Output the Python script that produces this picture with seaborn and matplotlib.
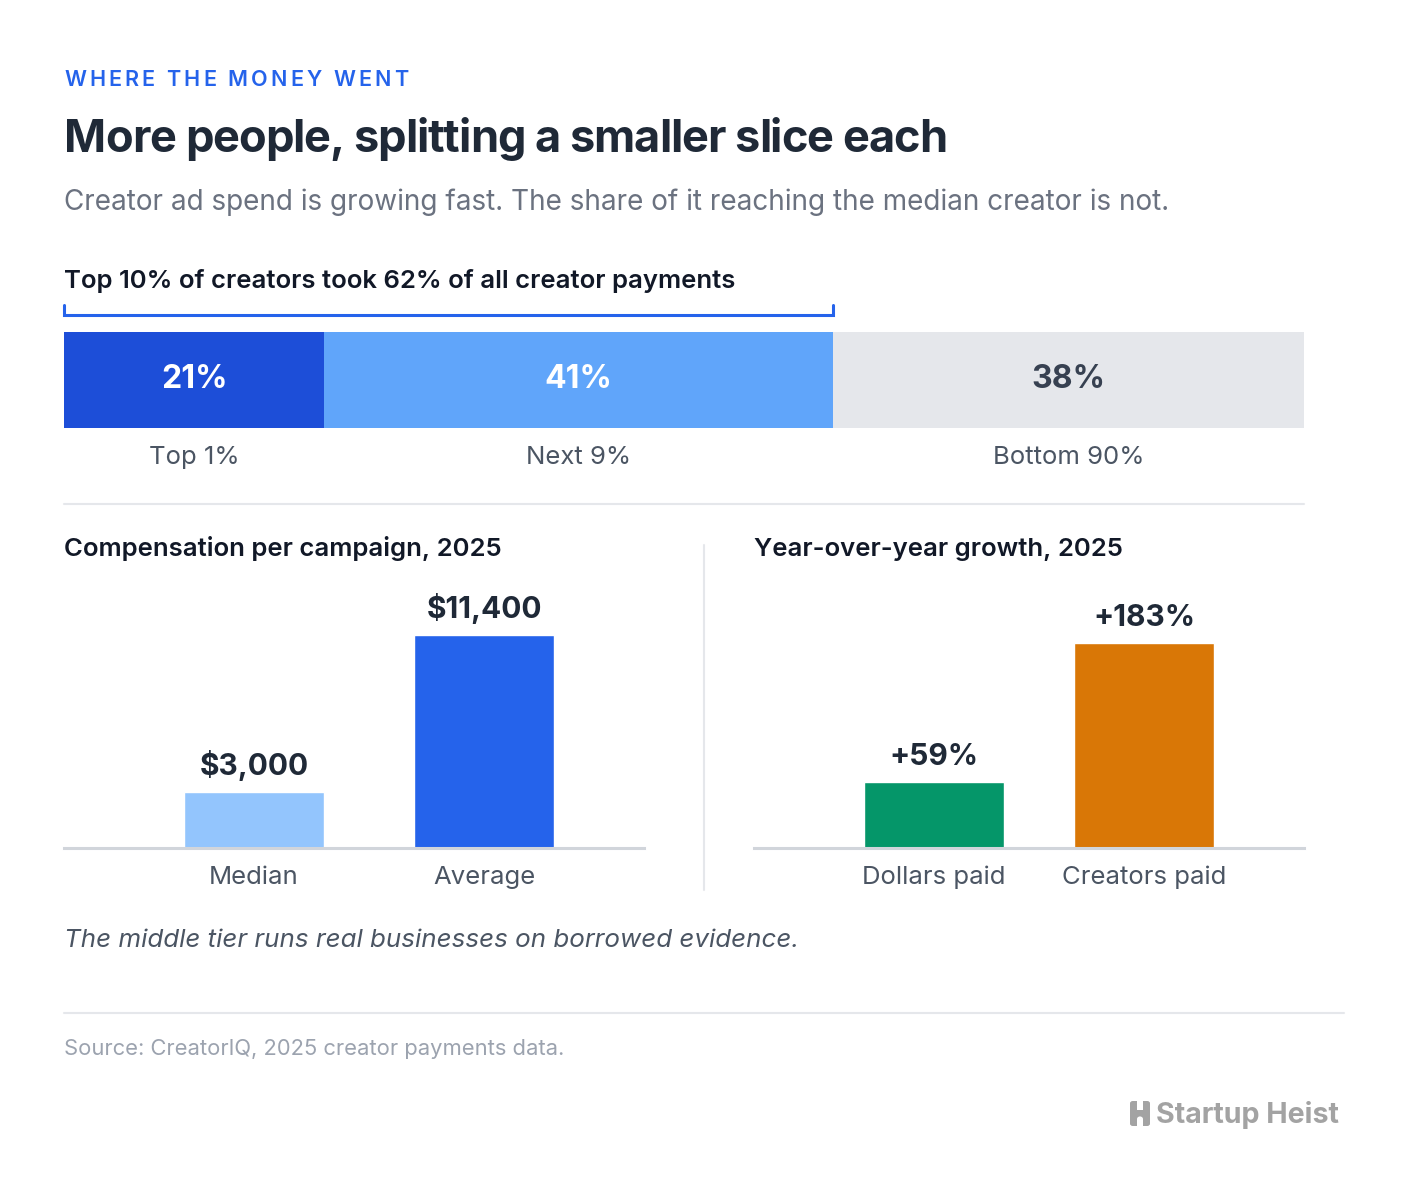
import matplotlib
matplotlib.use("Agg")
import matplotlib.pyplot as plt
import matplotlib.transforms as mtransforms
from matplotlib.lines import Line2D
from matplotlib.patches import FancyBboxPatch, Rectangle, Circle
import numpy as np
import seaborn as sns

# ---- data ----
tier_labels = ["Top 1%", "Next 9%", "Bottom 90%"]
tier_shares = [21, 41, 38]

comp_labels = ["Median", "Average"]
comp_values = [3000, 11400]

growth_labels = ["Dollars paid", "Creators paid"]
growth_values = [59, 183]

# ---- style ----
sns.set_theme(style="white")
plt.rcParams["font.family"] = ["Inter", "DejaVu Sans"]

DARK = "#1f2937"
GREY = "#4b5563"
MUTED = "#6b7280"
LIGHT = "#9ca3af"
RULE = "#e5e7eb"
BLUE = "#2563eb"

W, H = 1408, 1198
fig = plt.figure(figsize=(W / 100, H / 100), dpi=100)
fig.patch.set_facecolor("white")
R = fig.canvas.get_renderer()


def ax_px(x0, y0, x1, y1):
    return fig.add_axes([x0 / W, 1 - y1 / H, (x1 - x0) / W, (y1 - y0) / H])


def txt(x, y, s, **kw):
    kw.setdefault("va", "baseline")
    return fig.text(x / W, 1 - y / H, s, **kw)


def hline(x0, x1, y, **kw):
    fig.add_artist(Line2D([x0 / W, x1 / W], [1 - y / H, 1 - y / H],
                          transform=fig.transFigure, **kw))


def vline(x, y0, y1, **kw):
    fig.add_artist(Line2D([x / W, x / W], [1 - y0 / H, 1 - y1 / H],
                          transform=fig.transFigure, **kw))


def width_of(s, **kw):
    t = fig.text(0, 0, s, **kw)
    w = t.get_window_extent(R).width
    t.remove()
    return w


def fitted(x, y, s, target, **kw):
    # place chars one by one, spreading/tightening to a target width
    space = width_of("x x", **kw) - width_of("xx", **kw)
    widths = [space if ch == " " else width_of(ch, **kw) for ch in s]
    gap = (target - sum(widths)) / (len(s) - 1)
    for ch, w in zip(s, widths):
        if ch != " ":
            txt(x, y, ch, **kw)
        x += w + gap


# ---- header ----
fitted(64, 86, "WHERE THE MONEY WENT", 344, fontsize=15.5, fontweight="semibold", color=BLUE)
fitted(64, 152, "More people, splitting a smaller slice each", 883, fontsize=32.5,
       fontweight="bold", color=DARK)
txt(64, 210, "Creator ad spend is growing fast. The share of it reaching the median creator is not.",
    fontsize=20.1, color=MUTED)
txt(64, 288, "Top 10% of creators took 62% of all creator payments", fontsize=18.5,
    fontweight="semibold", color="#111827")

# ---- stacked share bar ----
ax = ax_px(64, 332, 1304, 428)
lefts = np.concatenate([[0], np.cumsum(tier_shares)[:-1]])
seg_colors = ["#1d4ed8", "#60a5fa", "#e5e7eb"]
lab_colors = ["white", "white", "#374151"]
ax.barh([0] * 3, tier_shares, left=lefts, height=1, color=seg_colors, linewidth=0)
for lab, share, left, lc in zip(tier_labels, tier_shares, lefts, lab_colors):
    c = left + share / 2
    ax.text(c, 0, f"{share}%", ha="center", va="center", fontsize=23,
            fontweight="bold", color=lc)
    ax.annotate(lab, xy=(c, 0), xycoords=("data", "axes fraction"),
                xytext=(0, -26), textcoords="offset points", ha="center",
                va="baseline", fontsize=18.5, color=GREY)
ax.set_xlim(0, 100)
ax.set_ylim(-0.5, 0.5)
ax.axis("off")

# bracket over the top 10%
top10 = tier_shares[0] + tier_shares[1]
blend = mtransforms.blended_transform_factory(ax.transData, ax.transAxes)
ax.plot([0, 0, top10, top10], [1.28, 1.177, 1.177, 1.28], transform=blend,
        color=BLUE, lw=2.2, clip_on=False, solid_joinstyle="miter")

hline(64, 1304, 504, color=RULE, lw=1.5)


# ---- small bar panels ----
def panel(x0, x1, labels, values, colors, fmt, heading, bar_px, centers):
    a = ax_px(x0, 590, x1, 848)
    step = centers[1] - centers[0]
    sns.barplot(x=labels, y=values, hue=labels, palette=colors, saturation=1,
                width=bar_px / step, legend=False, ax=a)
    a.set_xlim(-(centers[0] - x0) / step, 1 + (x1 - centers[1]) / step)
    a.set_ylim(0, max(values) * 258 / (213 if fmt.startswith("$") else 205))
    for i, (lab, v) in enumerate(zip(labels, values)):
        a.annotate(fmt.format(v), xy=(i, v), xytext=(0, 12), textcoords="offset points",
                   ha="center", va="baseline", fontsize=21.5, fontweight="bold", color=DARK)
        a.annotate(lab, xy=(i, 0), xycoords=("data", "axes fraction"),
                   xytext=(0, -26), textcoords="offset points", ha="center",
                   va="baseline", fontsize=18.5, color=GREY)
    sns.despine(ax=a, left=True)
    a.spines["bottom"].set_color("#d1d5db")
    a.spines["bottom"].set_linewidth(2.2)
    a.set_xticks([])
    a.set_yticks([])
    a.set_xlabel("")
    a.set_ylabel("")
    a.patch.set_alpha(0)
    txt(x0, 556, heading, fontsize=18.5, fontweight="semibold", color="#111827")


panel(64, 644, comp_labels, comp_values, ["#93c5fd", BLUE], "${:,}",
      "Compensation per campaign, 2025", 140, [254, 484])
panel(754, 1304, growth_labels, growth_values, ["#059669", "#d97706"], "+{}%",
      "Year-over-year growth, 2025", 140, [934, 1144])

vline(704, 545, 890, color=RULE, lw=1.5)

# ---- footer ----
txt(64, 947, "The middle tier runs real businesses on borrowed evidence.", fontsize=18.7,
    fontstyle="italic", color=GREY)
hline(64, 1344, 1013, color=RULE, lw=1.5)
txt(64, 1055, "Source: CreatorIQ, 2025 creator payments data.", fontsize=15.8, color=LIGHT)

# logo
LOGO = "#a3a3a3"
def fbox(x0, y0, x1, y1):
    return [x0 / W, 1 - y1 / H, (x1 - x0) / W, (y1 - y0) / H]
b = fbox(1130, 1101, 1150, 1126)
fig.add_artist(FancyBboxPatch((b[0], b[1]), b[2], b[3], boxstyle="round,pad=0,rounding_size=0.002",
                              transform=fig.transFigure, color=LOGO, lw=0))
b = fbox(1137, 1100, 1143, 1110)
fig.add_artist(Rectangle((b[0], b[1]), b[2], b[3], transform=fig.transFigure, color="white", lw=0))
b = fbox(1137, 1119, 1143, 1127)
fig.add_artist(Rectangle((b[0], b[1]), b[2], b[3], transform=fig.transFigure, color="white", lw=0))
fig.add_artist(Circle((1140 / W, 1 - 1119 / H), 3 / W, transform=fig.transFigure,
                      color="white", lw=0))
txt(1156, 1123, "Startup Heist", fontsize=20.6, fontweight="bold", color=LOGO)

fig.savefig("out.png", dpi=100, facecolor="white")
